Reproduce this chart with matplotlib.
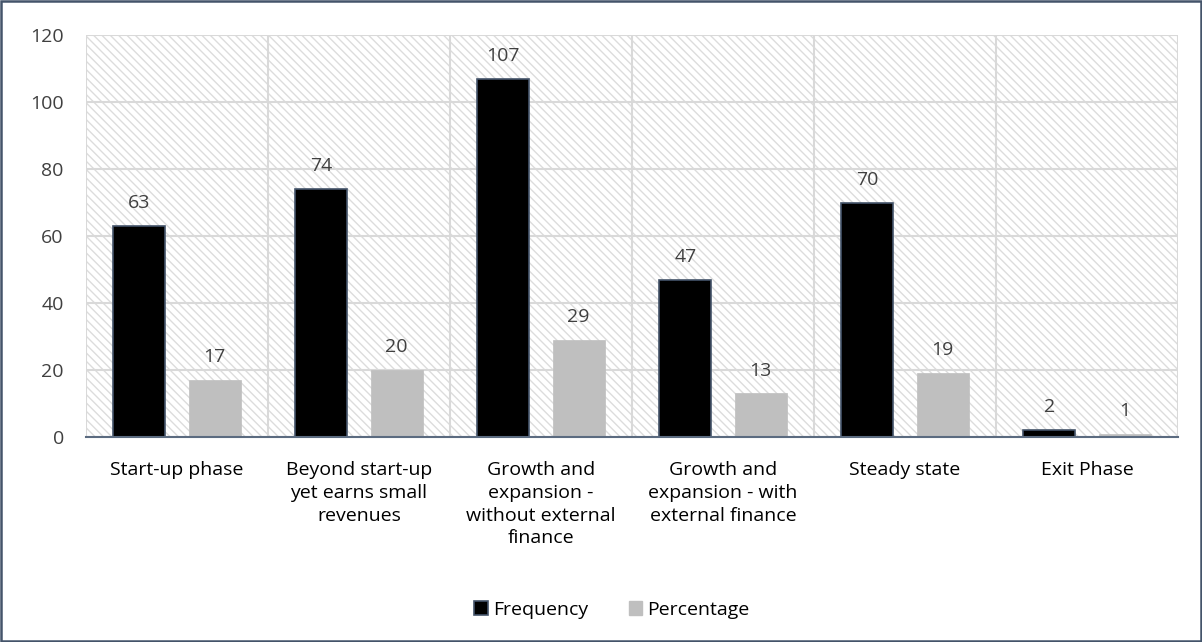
import matplotlib
matplotlib.use("Agg")
import matplotlib.pyplot as plt
from matplotlib.patches import Rectangle, Patch
import numpy as np

# business lifecycle stages
stages = ["Start-up phase",
          "Beyond start-up\nyet earns small\nrevenues",
          "Growth and\nexpansion -\nwithout external\nfinance",
          "Growth and\nexpansion - with\nexternal finance",
          "Steady state",
          "Exit Phase"]
frequency = [63, 74, 107, 47, 70, 2]
percentage = [17, 20, 29, 13, 19, 1]

plt.rcParams['font.family'] = ['Open Sans', 'DejaVu Sans']
plt.rcParams['hatch.linewidth'] = 1.0
plt.rcParams['hatch.color'] = '#dcdcdc'

fs = 14

fig = plt.figure(figsize=(12.02, 6.42), dpi=100)
ax = fig.add_axes([86/1202, 1-437/642, (1178-86)/1202, (437-35)/642])

x = np.arange(len(stages))
w = 0.286
off = 0.207

# hatched plot background
bg = Rectangle((0, 0), 1, 1, transform=ax.transAxes, facecolor='white',
               edgecolor='#dcdcdc', hatch='\\' * 4, linewidth=0, zorder=0)
ax.add_patch(bg)

b1 = ax.bar(x - off, frequency, w, color='black', edgecolor='#44546a', linewidth=1.2, zorder=3)
b2 = ax.bar(x + off, percentage, w, color='#bfbfbf', edgecolor='#bfbfbf', linewidth=0.5, zorder=3)

for bars, vals in ((b1, frequency), (b2, percentage)):
    for r, v in zip(bars, vals):
        ax.annotate(str(v), (r.get_x() + r.get_width()/2, v), xytext=(0, 10),
                    textcoords='offset points', ha='center', va='bottom',
                    fontsize=fs, color='#404040')

ax.set_xlim(-0.5, len(stages) - 0.5)
ax.set_ylim(0, 120)
ax.set_yticks(range(0, 121, 20))
ax.set_xticks(x)
ax.set_xticklabels(stages, fontsize=fs, color='black', linespacing=1.33, va='top')
ax.set_xticks(np.arange(-0.5, len(stages), 1), minor=True)
ax.tick_params(axis='y', length=0, pad=16, labelsize=fs, labelcolor='#404040')
ax.tick_params(axis='x', which='both', length=0, pad=17.5)

ax.grid(axis='y', which='major', color='#d9d9d9', linewidth=1.5, zorder=1)
ax.grid(axis='x', which='minor', color='#d9d9d9', linewidth=1.5, zorder=1)
ax.grid(axis='x', which='major', visible=False)

for s in ('top', 'right', 'left'):
    ax.spines[s].set_visible(False)
ax.spines['bottom'].set_color('#5b6b80')
ax.spines['bottom'].set_linewidth(1.5)
ax.spines['bottom'].set_zorder(4)

handles = [Patch(facecolor='black', edgecolor='#44546a', linewidth=1.2, label='Frequency'),
           Patch(facecolor='#bfbfbf', edgecolor='#bfbfbf', label='Percentage')]
fig.legend(handles=handles, loc='center', bbox_to_anchor=(612/1202, 1-610/642), ncol=2,
           frameon=False, fontsize=fs, handlelength=0.7, handleheight=0.7,
           handletextpad=0.25, columnspacing=2.1)

# outer chart border
fig.patches.append(Rectangle((0.001, 0.0015), 0.998, 0.997, transform=fig.transFigure,
                             fill=False, edgecolor='#44546a', linewidth=1.8))

fig.savefig('out.png', dpi=100)
